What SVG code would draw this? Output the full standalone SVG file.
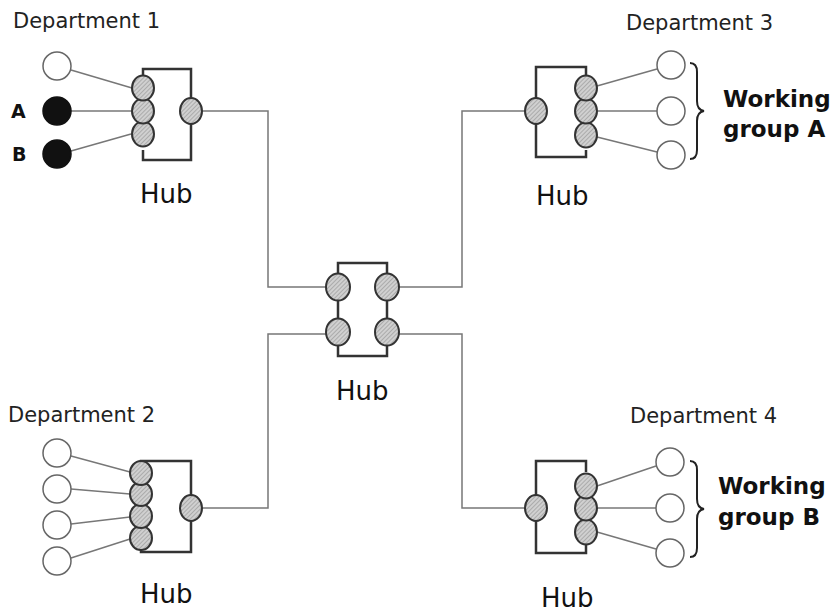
<svg xmlns="http://www.w3.org/2000/svg" width="834" height="614" viewBox="0 0 834 614">
<defs>
<pattern id="hatch" width="3" height="3" patternUnits="userSpaceOnUse" patternTransform="rotate(45)">
<rect width="3" height="3" fill="#d0d0d0"/>
<line x1="0" y1="0" x2="0" y2="3" stroke="#939393" stroke-width="1.2"/>
</pattern>
</defs>
<style>
.hub{fill:none;stroke:#333;stroke-width:2.5}
.port{fill:url(#hatch);stroke:#333;stroke-width:2}
.pc{fill:#fff;stroke:#666;stroke-width:1.5}
.pcb{fill:#111;stroke:#111;stroke-width:1.5}
.wire{fill:none;stroke:#777;stroke-width:1.5}
.brace{fill:none;stroke:#222;stroke-width:2}
.dept{font-family:"DejaVu Sans",sans-serif;font-size:21px;fill:#222}
.hubt{font-family:"DejaVu Sans",sans-serif;font-size:26px;fill:#111}
.bold{font-family:"DejaVu Sans",sans-serif;font-size:23px;font-weight:bold;fill:#111}
</style>
<rect width="834" height="614" fill="#fff"/>

<g id="connectors">
<line class="wire" x1="71" y1="70" x2="132" y2="88"/>
<line class="wire" x1="71" y1="111" x2="131" y2="111"/>
<line class="wire" x1="71" y1="151" x2="131" y2="134"/>
<polyline class="wire" points="202,111 268,111 268,287 326,287"/>
<line class="wire" x1="597" y1="86" x2="657" y2="69"/>
<line class="wire" x1="598" y1="111" x2="657" y2="111"/>
<line class="wire" x1="597" y1="137" x2="657" y2="152"/>
<polyline class="wire" points="525,111 462,111 462,287 399,287"/>
<line class="wire" x1="71" y1="456" x2="130" y2="472"/>
<line class="wire" x1="71" y1="489" x2="130" y2="494"/>
<line class="wire" x1="71" y1="524" x2="130" y2="517"/>
<line class="wire" x1="71" y1="558" x2="130" y2="539"/>
<polyline class="wire" points="202,508 268,508 268,334 326,334"/>
<line class="wire" x1="597" y1="486" x2="656" y2="466"/>
<line class="wire" x1="598" y1="508" x2="656" y2="508"/>
<line class="wire" x1="597" y1="532" x2="656" y2="549"/>
<polyline class="wire" points="524,508 462,508 462,334 399,334"/>
</g>

<g id="dept1">
<text class="dept" x="13" y="28">Department 1</text>
<circle class="pc" cx="57" cy="66" r="14"/>
<circle class="pcb" cx="57" cy="111" r="14"/>
<circle class="pcb" cx="57" cy="154" r="14"/>
<text class="bold" x="11" y="118" style="font-size:19px">A</text>
<text class="bold" x="12" y="161" style="font-size:19px">B</text>
</g>

<g id="hub1">
<polyline class="hub" points="143,75 143,69 191,69 191,160 143,160 143,150"/>
<ellipse class="port" cx="143" cy="134" rx="11" ry="12.5"/>
<ellipse class="port" cx="143" cy="111" rx="11" ry="12.5"/>
<ellipse class="port" cx="143" cy="88" rx="11" ry="12.5"/>
<ellipse class="port" cx="191" cy="111" rx="11" ry="13"/>
<text class="hubt" x="140" y="203">Hub</text>
</g>

<g id="dept3">
<text class="dept" x="626" y="30">Department 3</text>
<circle class="pc" cx="671" cy="65" r="14"/>
<circle class="pc" cx="671" cy="111" r="14"/>
<circle class="pc" cx="671" cy="155" r="14"/>
<path class="brace" d="M690,63 Q697,63 697,72 L697,101 Q697,110 704,111 Q697,112 697,121 L697,150 Q697,159 690,159"/>
<text class="bold" x="723" y="107">Working</text>
<text class="bold" x="723" y="137">group A</text>
</g>

<g id="hub3">
<polyline class="hub" points="586,75 586,67 536,67 536,157 586,157 586,150"/>
<ellipse class="port" cx="536" cy="111" rx="11" ry="13"/>
<ellipse class="port" cx="586" cy="135" rx="11" ry="12.5"/>
<ellipse class="port" cx="586" cy="111" rx="11" ry="12.5"/>
<ellipse class="port" cx="586" cy="88" rx="11" ry="12.5"/>
<text class="hubt" x="536" y="205">Hub</text>
</g>

<g id="hubc">
<rect class="hub" x="338" y="263" width="49" height="93"/>
<ellipse class="port" cx="338" cy="287" rx="12" ry="13.5"/>
<ellipse class="port" cx="387" cy="287" rx="12" ry="13.5"/>
<ellipse class="port" cx="338" cy="332" rx="12" ry="13.5"/>
<ellipse class="port" cx="387" cy="332" rx="12" ry="13.5"/>
<text class="hubt" x="336" y="400">Hub</text>
</g>

<g id="dept2">
<text class="dept" x="8" y="422">Department 2</text>
<circle class="pc" cx="57" cy="453" r="14"/>
<circle class="pc" cx="57" cy="489" r="14"/>
<circle class="pc" cx="57" cy="525" r="14"/>
<circle class="pc" cx="57" cy="561" r="14"/>
</g>

<g id="hub2">
<polyline class="hub" points="141,465 141,461 191,461 191,552 141,552 141,545"/>
<ellipse class="port" cx="141" cy="538" rx="11" ry="12"/>
<ellipse class="port" cx="141" cy="516" rx="11" ry="12"/>
<ellipse class="port" cx="141" cy="494" rx="11" ry="12"/>
<ellipse class="port" cx="141" cy="473" rx="11" ry="12"/>
<ellipse class="port" cx="191" cy="508" rx="11" ry="13"/>
<text class="hubt" x="140" y="603">Hub</text>
</g>

<g id="dept4">
<text class="dept" x="630" y="423">Department 4</text>
<circle class="pc" cx="670" cy="462" r="14"/>
<circle class="pc" cx="670" cy="508" r="14"/>
<circle class="pc" cx="670" cy="553" r="14"/>
<path class="brace" d="M690,461 Q697,461 697,470 L697,499 Q697,508 704,509 Q697,510 697,519 L697,548 Q697,557 690,557"/>
<text class="bold" x="718" y="494">Working</text>
<text class="bold" x="718" y="525">group B</text>
</g>

<g id="hub4">
<polyline class="hub" points="586,472 586,461 536,461 536,553 586,553 586,545"/>
<ellipse class="port" cx="536" cy="508" rx="11" ry="13"/>
<ellipse class="port" cx="586" cy="532" rx="11" ry="12.5"/>
<ellipse class="port" cx="586" cy="508" rx="11" ry="12.5"/>
<ellipse class="port" cx="586" cy="486" rx="11" ry="12.5"/>
<text class="hubt" x="541" y="607">Hub</text>
</g>
</svg>
